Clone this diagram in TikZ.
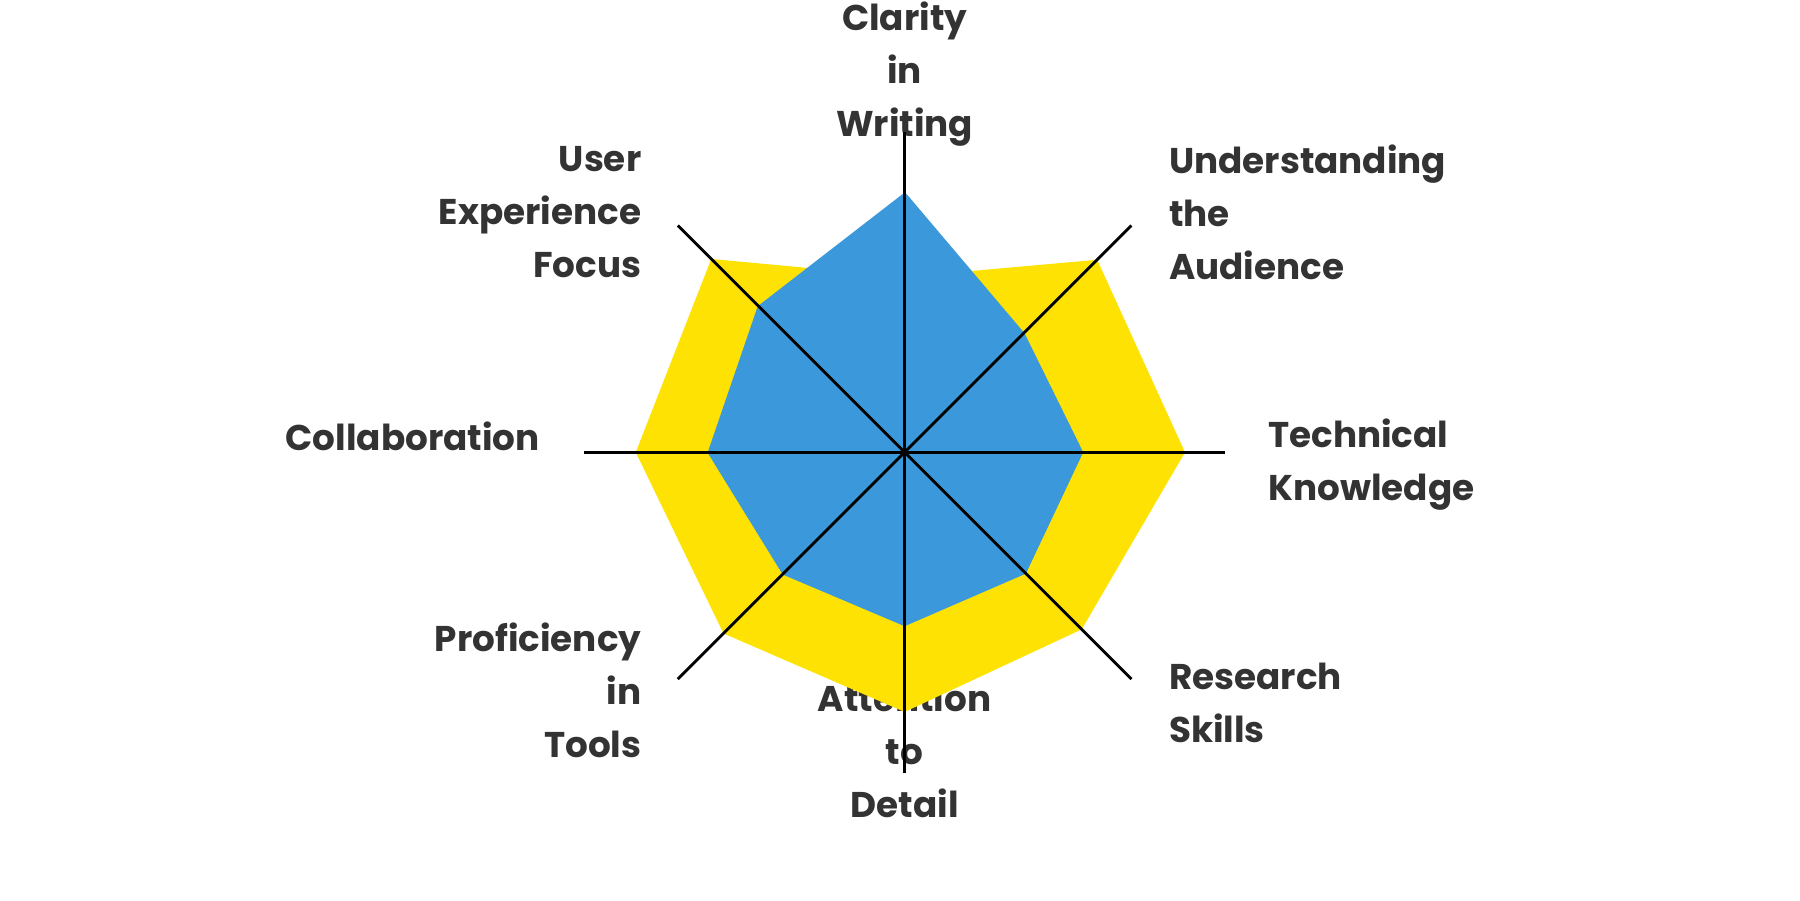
\documentclass[tikz,border=0pt]{standalone}
\usepackage{fontspec}
\setmainfont{Poppins}
\usepackage{tikz}
\usetikzlibrary{calc}

\begin{document}
\begin{tikzpicture}[x=1pt, y=-1pt,
  lbl/.style={text=black!80, inner sep=0pt, font=\fontsize{31}{46}\selectfont\bfseries}]
  \useasboundingbox (0,0) rectangle (1560,780);
  \coordinate (c) at (784,392);
  % labels
  \node [lbl, align=center] (clarity) at (784,64) {Clarity\\in\\Writing};
  \node [lbl, align=right, anchor=east] (ux) at (556,184) {User\\Experience\\Focus};
  \node [lbl, align=left, anchor=west] (aud) at (1013,184) {Understanding\\the\\Audience};
  \node [lbl, align=left, anchor=west] (tech) at (1099,403) {Technical\\Knowledge};
  \node [lbl, anchor=east] (collab) at (468,378) {Collaboration};
  \node [lbl, align=right, anchor=east] (tools) at (556,598) {Proficiency\\in\\Tools};
  \node [lbl, align=left, anchor=west] (research) at (1013,609) {Research\\Skills};
  \node [lbl, align=center] (detail) at (784,650) {Attention\\to\\Detail};
  % series (y axis points down, so angles run clockwise)
  \fill[yellow!85!orange] ($(c)+(-90:152)$) -- ($(c)+(-45:236)$) -- ($(c)+(0:243)$) -- ($(c)+(45:217)$)
    -- ($(c)+(90:225)$) -- ($(c)+(135:222)$) -- ($(c)+(180:233)$) -- ($(c)+(-135:237)$) -- cycle;
  \filldraw[fill=cyan!70!blue!80!white, draw=cyan!70!blue!80!white, line width=5pt, line join=round]
    ($(c)+(-90:222)$) -- ($(c)+(-45:144)$) -- ($(c)+(0:152)$) -- ($(c)+(45:146)$)
    -- ($(c)+(90:148)$) -- ($(c)+(135:147)$) -- ($(c)+(180:168)$) -- ($(c)+(-135:177)$) -- cycle;
  % axes
  \foreach \a in {0,45,90,135}
    \draw[line width=2.5pt] ($(c)+(\a:278)$) -- ($(c)+(\a+180:278)$);
\end{tikzpicture}
\end{document}
